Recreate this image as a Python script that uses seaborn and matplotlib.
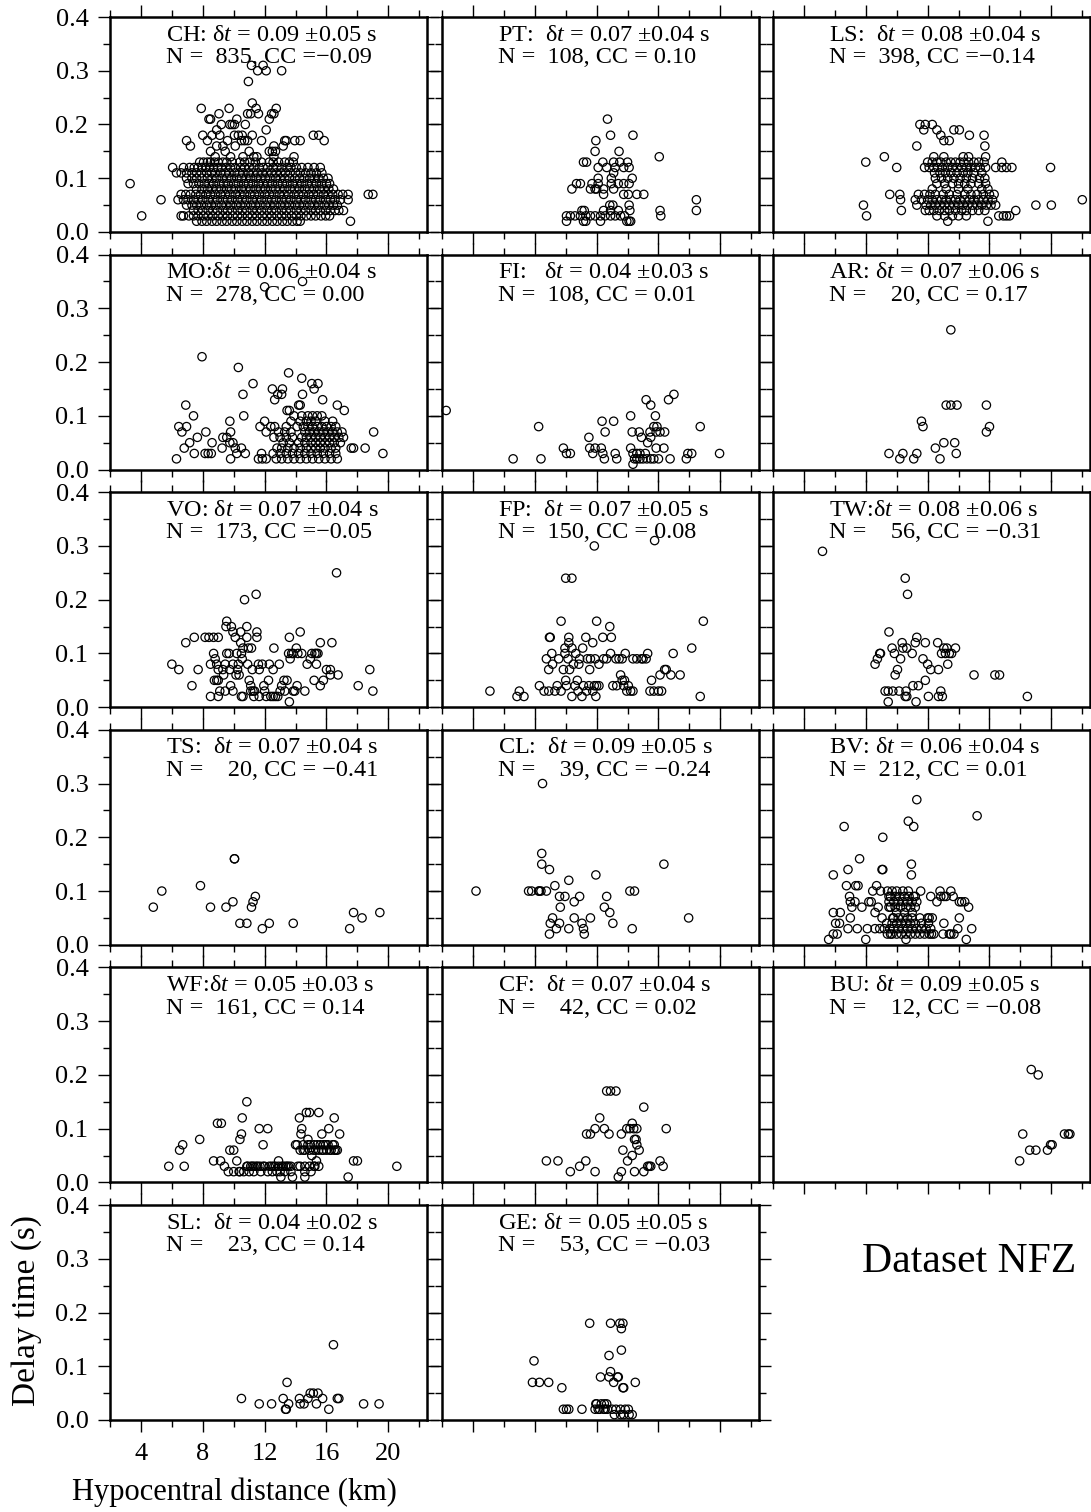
import matplotlib
matplotlib.use('Agg')
import matplotlib.pyplot as plt
from matplotlib.ticker import MultipleLocator, FormatStrFormatter
import pandas as pd
import seaborn as sns

# station codes and the two text lines of every panel
stations = ['CH', 'PT', 'LS', 'MO', 'FI', 'AR', 'VO', 'FP', 'TW',
            'TS', 'CL', 'BV', 'WF', 'CF', 'BU', 'SL', 'GE']
line1 = ['CH: δ$t$ = 0.09 ±0.05 s', 'PT:  δ$t$ = 0.07 ±0.04 s', 'LS:  δ$t$ = 0.08 ±0.04 s',
         'MO:δ$t$ = 0.06 ±0.04 s', 'FI:   δ$t$ = 0.04 ±0.03 s', 'AR: δ$t$ = 0.07 ±0.06 s',
         'VO: δ$t$ = 0.07 ±0.04 s', 'FP:  δ$t$ = 0.07 ±0.05 s', 'TW:δ$t$ = 0.08 ±0.06 s',
         'TS:  δ$t$ = 0.07 ±0.04 s', 'CL:  δ$t$ = 0.09 ±0.05 s', 'BV: δ$t$ = 0.06 ±0.04 s',
         'WF:δ$t$ = 0.05 ±0.03 s', 'CF:  δ$t$ = 0.07 ±0.04 s', 'BU: δ$t$ = 0.09 ±0.05 s',
         'SL:  δ$t$ = 0.04 ±0.02 s', 'GE: δ$t$ = 0.05 ±0.05 s']
line2 = ['N =  835, CC =−0.09', 'N =  108, CC = 0.10', 'N =  398, CC =−0.14',
         'N =  278, CC = 0.00', 'N =  108, CC = 0.01', 'N =    20, CC = 0.17',
         'N =  173, CC =−0.05', 'N =  150, CC = 0.08', 'N =    56, CC = −0.31',
         'N =    20, CC = −0.41', 'N =    39, CC = −0.24', 'N =  212, CC = 0.01',
         'N =  161, CC = 0.14', 'N =    42, CC = 0.02', 'N =    12, CC = −0.08',
         'N =    23, CC = 0.14', 'N =    53, CC = −0.03']

# delay time (s) -> hypocentral distances (km)
ch_rows = [
    (0.31, [11.15, 11.9]), (0.30, [11.55, 12.1, 13.1]), (0.28, [10.95]), (0.24, [11.2]),
    (0.23, [7.9, 9.7, 11.45, 12.75]), (0.22, [9.05, 10.9, 11.1, 11.6, 12.45, 12.6]),
    (0.21, [8.4, 8.5, 10.2, 12.3]), (0.20, [9.2, 9.75, 9.9, 10.05, 10.75]), (0.19, [8.9, 12.1]),
    (0.18, [8.0, 8.6, 9.1, 10.05, 10.3, 10.55, 11.2, 15.15, 15.5]),
    (0.17, [6.95, 8.3, 9.6, 10.5, 10.7, 10.9, 11.8, 13.3, 13.4, 13.95, 14.3, 15.85]),
    (0.16, [7.2, 8.9, 9.3, 10.1, 12.6, 13.2]), (0.15, [8.5, 9.45, 11.0, 12.3, 12.5, 12.7]),
    (0.14, [8.8, 9.8, 10.6, 11.3, 11.5, 12.6, 13.9]),
    (0.13, [7.8, 8.05, 8.3, 8.5, 8.75, 9.0, 9.3, 9.55, 9.9, 10.4, 10.7, 11.05, 11.4, 11.8, 12.3,
            12.55, 12.9, 13.3, 13.6, 13.85]),
    (0.12, [6.05, 6.75, 7.15, 7.45, 7.7, 7.95, 8.2, 8.45, 8.7, 8.95, 9.2, 9.5, 9.8, 10.1, 10.45,
            10.7, 11.0, 11.3, 11.65, 11.9, 12.2, 12.55, 12.8, 13.1, 13.45, 13.7, 14.05, 14.4, 14.8,
            15.2, 15.6]),
    (0.11, [6.3, 6.6, 6.95, 7.3, 7.6, 7.9, 8.25, 8.55, 8.8, 9.15, 9.45, 9.7, 10.05, 10.35, 10.6,
            10.95, 11.25, 11.55, 11.85, 12.15, 12.45, 12.75, 13.05, 13.35, 13.65, 14.0, 14.3, 14.65,
            15.0, 15.35, 15.7]),
    (0.10, [6.95, 7.3, 7.6, 7.95, 8.3, 8.6, 8.9, 9.25, 9.55, 9.85, 10.2, 10.5, 10.8, 11.1, 11.45,
            11.75, 12.05, 12.35, 12.7, 13.0, 13.3, 13.6, 13.95, 14.25, 14.55, 14.9, 15.2, 15.5, 15.8,
            16.1]),
    (0.09, [3.3, 7.05, 7.4, 7.75, 8.1, 8.4, 8.7, 9.05, 9.35, 9.65, 10.0, 10.3, 10.65, 10.95, 11.25,
            11.6, 11.9, 12.2, 12.5, 12.85, 13.15, 13.45, 13.8, 14.1, 14.4, 14.75, 15.05, 15.35, 15.7,
            16.0, 16.2]),
    (0.08, [7.6, 7.95, 8.3, 8.6, 8.9, 9.2, 9.55, 9.85, 10.15, 10.5, 10.8, 11.1, 11.45, 11.75, 12.05,
            12.4, 12.7, 13.0, 13.3, 13.65, 13.95, 14.25, 14.6, 14.9, 15.2, 15.55, 15.85, 16.15,
            16.45]),
    (0.07, [6.6, 6.9, 7.2, 7.55, 7.85, 8.2, 8.5, 8.8, 9.15, 9.45, 9.75, 10.1, 10.4, 10.7, 11.05,
            11.35, 11.65, 12.0, 12.3, 12.6, 12.95, 13.25, 13.55, 13.9, 14.2, 14.5, 14.85, 15.15,
            15.45, 15.8, 16.1, 16.4, 16.75, 17.05, 17.4, 18.7, 19.0]),
    (0.06, [5.3, 6.4, 6.75, 7.05, 7.4, 7.7, 8.0, 8.35, 8.65, 8.95, 9.3, 9.6, 9.9, 10.25, 10.55,
            10.85, 11.2, 11.5, 11.8, 12.15, 12.45, 12.75, 13.1, 13.4, 13.7, 14.05, 14.35, 14.65,
            15.0, 15.3, 15.6, 15.95, 16.25, 16.55, 16.9, 17.4]),
    (0.05, [6.95, 7.3, 7.6, 7.9, 8.25, 8.55, 8.85, 9.2, 9.5, 9.8, 10.15, 10.45, 10.75, 11.1, 11.4,
            11.7, 12.05, 12.35, 12.65, 13.0, 13.3, 13.6, 13.95, 14.25, 14.55, 14.9, 15.2, 15.5,
            15.85, 16.15, 16.45, 16.7]),
    (0.04, [7.4, 7.7, 8.0, 8.35, 8.65, 8.95, 9.3, 9.6, 9.9, 10.25, 10.55, 10.85, 11.2, 11.5, 11.8,
            12.15, 12.45, 12.75, 13.1, 13.4, 13.7, 14.05, 14.35, 14.65, 15.0, 15.3, 15.6, 15.95,
            16.25, 16.55, 16.8, 17.1]),
    (0.03, [4.05, 6.6, 6.75, 7.1, 7.4, 7.7, 8.05, 8.35, 8.65, 9.0, 9.3, 9.6, 9.95, 10.25, 10.55,
            10.9, 11.2, 11.5, 11.85, 12.15, 12.45, 12.8, 13.1, 13.4, 13.75, 14.05, 14.35, 14.7, 15.0,
            15.3, 15.65, 15.95, 16.2]),
    (0.02, [7.6, 7.95, 8.25, 8.6, 8.9, 9.25, 9.55, 9.9, 10.2, 10.55, 10.85, 11.2, 11.5, 11.85,
            12.15, 12.5, 12.8, 13.15, 13.45, 13.8, 14.1, 14.3, 17.55]),
]
pt_rows = [
    (0.21, [12.7]), (0.18, [12.9, 14.35]), (0.17, [11.95]), (0.15, [11.9, 13.45]), (0.14, [16.05]),
    (0.13, [11.15, 11.35, 12.4, 13.1, 13.5, 14.0]), (0.12, [12.1, 12.65, 13.2, 13.75, 14.1]),
    (0.11, [13.1]), (0.10, [12.1, 12.95, 14.3]),
    (0.09, [10.7, 10.95, 11.7, 12.1, 12.95, 13.4, 13.75, 14.1]),
    (0.08, [10.4, 11.6, 11.9, 12.0, 12.45, 13.1]), (0.07, [12.45, 13.75, 14.05, 14.6, 15.05]),
    (0.06, [18.45]), (0.05, [12.85, 13.05, 14.1]),
    (0.04, [11.05, 11.2, 12.45, 12.9, 13.4, 14.15, 16.1, 18.45]),
    (0.03, [10.05, 10.3, 10.6, 10.95, 11.3, 11.6, 11.9, 12.25, 12.55, 12.9, 13.2, 13.55, 13.8, 16.15]),
    (0.02, [10.05, 11.15, 11.3, 12.25, 13.95, 14.1, 14.2]),
]
ls_rows = [
    (0.20, [11.5, 11.85, 12.3]), (0.19, [11.75, 12.6, 13.7, 14.05]), (0.18, [12.85, 14.7, 15.65]),
    (0.17, [13.05, 13.4]), (0.16, [11.3, 15.7]), (0.14, [9.2, 12.4, 13.05, 14.3, 14.65, 15.75]),
    (0.13, [8.0, 12.0, 12.3, 12.6, 12.85, 13.2, 13.5, 13.8, 14.1, 14.35, 14.65, 15.0, 15.3, 15.65, 16.8]),
    (0.12, [10.0, 11.8, 12.1, 12.4, 12.65, 12.95, 13.3, 13.6, 13.9, 14.2, 14.5, 14.8, 15.1, 15.4,
            15.75, 16.4, 16.8, 17.1, 17.45, 19.95]),
    (0.11, [12.45, 12.8, 13.15, 13.5, 13.9, 14.3, 14.6, 15.0, 15.5]),
    (0.10, [12.5, 12.9, 13.3, 13.7, 14.1, 14.5, 14.9, 15.35, 15.7]),
    (0.09, [12.6, 13.1, 13.6, 14.0, 14.4, 14.8, 15.3, 15.75]),
    (0.08, [12.3, 13.2, 14.0, 14.6, 15.5, 15.9]),
    (0.07, [9.55, 10.2, 11.4, 11.8, 12.15, 12.5, 13.0, 13.4, 13.9, 14.4, 14.8, 15.2, 15.6, 16.0, 16.3]),
    (0.06, [10.25, 11.2, 11.6, 12.0, 12.3, 12.6, 12.9, 13.2, 13.5, 13.8, 14.1, 14.4, 14.7, 15.0,
            15.3, 15.6, 15.9, 16.2, 22.0]),
    (0.05, [7.85, 11.3, 11.9, 12.2, 12.5, 12.8, 13.1, 13.4, 13.7, 14.0, 14.3, 14.6, 14.9, 15.2,
            15.5, 15.8, 16.1, 16.4, 19.0, 20.0]),
    (0.04, [10.3, 11.85, 12.1, 12.4, 12.75, 13.1, 13.4, 13.8, 14.2, 14.5, 14.9, 15.3, 15.7, 17.7]),
    (0.03, [8.05, 12.6, 13.1, 13.6, 14.0, 14.5, 16.6, 16.9, 17.1, 17.3]),
    (0.02, [13.3, 15.9]),
]
mo_rows = [
    (0.35, [14.45]), (0.34, [12.0]), (0.21, [7.95]), (0.19, [10.3]), (0.18, [13.55]), (0.17, [14.4]),
    (0.16, [11.25, 15.05, 15.45]), (0.15, [12.5, 13.15, 15.2]), (0.14, [10.6, 12.85, 13.1, 14.45]),
    (0.13, [12.65, 15.75]), (0.12, [6.9, 14.2, 14.3, 16.7]), (0.11, [13.45, 13.6, 17.15]),
    (0.10, [7.4, 10.65, 13.9, 14.4, 14.8, 15.1, 15.4, 15.7]),
    (0.09, [9.75, 12.0, 13.7, 14.3, 14.7, 15.0, 15.3, 15.9, 16.4]),
    (0.08, [6.45, 6.95, 11.7, 12.4, 12.65, 13.4, 14.1, 14.5, 14.8, 15.1, 15.4, 15.7, 16.0, 16.3, 16.6]),
    (0.07, [6.65, 8.2, 9.8, 12.1, 12.9, 13.3, 13.7, 14.6, 14.9, 15.2, 15.5, 15.8, 16.1, 16.4, 16.7,
            17.0, 19.05]),
    (0.06, [7.65, 9.3, 9.55, 12.6, 13.0, 13.4, 13.8, 14.4, 14.7, 15.0, 15.3, 15.6, 15.9, 16.2, 16.5,
            16.8, 17.1]),
    (0.05, [7.15, 8.6, 9.75, 9.95, 13.2, 13.6, 14.2, 14.6, 15.0, 15.3, 15.6, 15.9, 16.2, 16.5, 16.9]),
    (0.04, [6.8, 9.25, 10.1, 10.5, 12.8, 13.1, 13.5, 13.9, 14.3, 14.7, 15.0, 15.3, 15.6, 15.9, 16.3,
            16.6, 17.6, 17.75, 18.5]),
    (0.03, [7.45, 8.15, 8.35, 8.55, 10.2, 10.75, 11.8, 12.55, 13.0, 13.4, 13.8, 14.2, 14.6, 15.0,
            15.4, 15.8, 16.2, 16.6, 19.65]),
    (0.02, [6.3, 9.8, 11.6, 11.85, 12.1, 12.75, 13.1, 13.5, 13.9, 14.3, 14.7, 15.1, 15.5, 15.9,
            16.3, 16.7]),
]
fi_rows = [
    (0.14, [17.0]), (0.13, [15.2, 16.65]), (0.12, [15.5]), (0.11, [2.27]), (0.10, [14.2, 15.8]),
    (0.09, [12.35, 13.1]), (0.08, [8.25, 15.7, 15.9, 18.7]),
    (0.07, [12.55, 14.3, 14.75, 15.45, 15.85, 16.1, 16.4]), (0.06, [11.5, 14.9, 15.5]), (0.05, [15.3]),
    (0.04, [9.85, 11.55, 11.9, 12.3, 14.2, 15.85, 16.35]),
    (0.03, [10.05, 10.3, 11.75, 12.4, 13.2, 14.35, 14.6, 14.8, 15.15, 17.9, 18.15, 19.95]),
    (0.02, [6.6, 8.4, 12.5, 13.3, 14.45, 14.6, 14.8, 15.0, 15.25, 15.5, 15.7, 16.0, 16.75, 17.8]),
    (0.01, [14.35]),
]
ar_rows = [
    (0.26, [13.5]), (0.12, [13.2, 13.5, 13.9, 15.8]), (0.09, [11.6]), (0.08, [11.7, 16.0]),
    (0.07, [15.8]), (0.05, [13.05, 13.75]), (0.04, [12.5]), (0.03, [9.5, 10.4, 11.3, 13.85]),
    (0.02, [10.2, 11.1, 12.8]),
]
vo_rows = [
    (0.25, [16.65]), (0.21, [11.45]), (0.20, [10.7]), (0.16, [9.55]), (0.15, [9.5, 9.85, 10.85]),
    (0.14, [9.95, 10.45, 11.5, 14.3]), (0.13, [7.45, 8.15, 8.4, 8.7, 9.0, 10.1, 10.85, 11.5, 13.6]),
    (0.12, [6.9, 10.45, 15.6, 16.35]), (0.11, [10.6, 10.95, 11.15, 12.6, 14.05]),
    (0.10, [8.7, 9.55, 9.7, 10.2, 10.5, 13.55, 13.75, 13.85, 14.15, 14.4, 15.05, 15.25, 15.35, 15.45]),
    (0.09, [8.8, 10.55, 13.65, 14.95]),
    (0.08, [6.0, 8.5, 8.9, 9.45, 9.95, 10.3, 10.9, 11.6, 11.85, 12.3, 12.95, 14.75, 15.35]),
    (0.07, [6.45, 7.7, 9.0, 9.3, 9.75, 10.25, 11.2, 11.65, 12.55, 16.0, 16.25, 18.8]),
    (0.06, [9.35, 10.15, 10.35, 16.25, 16.75]),
    (0.05, [8.75, 8.9, 9.0, 11.0, 12.25, 13.25, 13.45, 15.2, 15.8]),
    (0.04, [7.3, 9.8, 11.1, 11.95, 13.1, 14.1, 15.6, 18.05]),
    (0.03, [9.1, 9.45, 9.95, 11.1, 11.25, 11.35, 12.0, 13.0, 13.3, 13.85, 13.95, 14.6, 19.0]),
    (0.02, [8.5, 9.0, 10.5, 10.6, 11.3, 11.65, 12.1, 12.4, 12.55, 12.7, 12.85]),
    (0.01, [13.6]),
]
fp_rows = [
    (0.31, [15.75]), (0.30, [11.85]), (0.24, [10.0, 10.4]), (0.16, [9.7, 12.0, 18.9]), (0.15, [12.85]),
    (0.13, [8.95, 9.0, 10.2, 11.3, 12.4, 12.95]), (0.12, [10.2, 11.75]), (0.11, [9.95, 10.4, 11.1, 18.15]),
    (0.10, [9.1, 9.95, 10.65, 12.9, 13.85, 15.3, 16.95]),
    (0.09, [8.75, 9.55, 10.15, 10.9, 11.4, 11.6, 11.9, 12.45, 12.65, 13.25, 13.45, 13.65, 14.35,
            14.6, 14.9, 15.0, 15.2]),
    (0.08, [9.15, 10.5, 10.85, 12.15]), (0.07, [8.9, 9.85, 10.25, 11.55, 16.4, 16.5]),
    (0.06, [13.55, 16.1, 16.8, 17.4]), (0.05, [10.0, 10.75, 13.65, 13.8, 15.55]),
    (0.04, [8.3, 9.45, 10.05, 10.6, 11.15, 11.5, 11.85, 12.0, 12.15, 13.05, 13.3, 13.75, 14.05]),
    (0.03, [5.1, 7.0, 8.6, 8.9, 9.3, 9.7, 10.8, 11.35, 11.75, 13.95, 14.2, 14.35, 15.45, 15.7, 16.0, 16.2]),
    (0.02, [6.85, 7.3, 10.4, 11.05, 11.95, 18.7]),
]
tw_rows = [
    (0.29, [5.2]), (0.24, [10.55]), (0.21, [10.7]), (0.14, [9.5]), (0.13, [11.3]),
    (0.12, [10.35, 11.2, 11.85, 12.65]), (0.11, [9.7, 10.4, 10.65, 13.05, 13.25, 13.8]),
    (0.10, [8.9, 8.95, 9.85, 11.0, 12.9, 13.15, 13.4, 13.55]), (0.09, [8.75, 10.25, 11.7]),
    (0.08, [8.6, 12.0, 13.3]), (0.07, [10.05, 12.2, 12.7]), (0.06, [9.9, 15.0, 16.35, 16.65]),
    (0.05, [11.85]), (0.04, [11.05, 11.4]), (0.03, [9.25, 9.45, 9.75, 10.15, 10.6, 12.85]),
    (0.02, [10.55, 10.65, 12.05, 12.7, 12.95, 18.45]), (0.01, [9.45, 11.25]),
]
ts_rows = [
    (0.16, [10.05, 10.05]), (0.11, [7.85]), (0.10, [5.35]), (0.09, [11.4]), (0.08, [9.95, 11.25]),
    (0.07, [4.8, 8.5, 9.5, 11.15]), (0.06, [17.75, 19.45]), (0.05, [18.3]),
    (0.04, [10.4, 10.85, 12.3, 13.85]), (0.03, [11.85, 17.5]),
]
cl_rows = [
    (0.30, [8.5]), (0.17, [8.45]), (0.15, [8.45, 16.35]), (0.14, [8.95]), (0.13, [11.95]),
    (0.12, [10.2]), (0.11, [9.3]), (0.10, [4.2, 7.6, 7.8, 8.25, 8.3, 8.4, 8.75, 14.15, 14.45]),
    (0.09, [9.6, 9.95, 10.9, 12.65]), (0.08, [10.55]), (0.07, [9.65, 12.5]), (0.06, [12.85]),
    (0.05, [9.15, 10.55, 11.6, 17.95]), (0.04, [9.0, 9.6, 11.05, 13.05]),
    (0.03, [9.4, 10.2, 11.15, 14.3]), (0.02, [8.95, 11.2]),
]
bv_rows = [
    (0.27, [11.3]), (0.24, [15.2]), (0.23, [10.75]), (0.22, [6.6, 11.1]), (0.20, [9.1]), (0.16, [7.6]),
    (0.15, [10.95]), (0.14, [6.85, 9.05, 9.1]), (0.13, [5.9, 10.95]), (0.11, [6.75, 7.35, 7.5, 8.7]),
    (0.10, [8.45, 8.95, 9.4, 9.7, 10.0, 10.4, 10.75, 11.55, 12.8, 13.5]),
    (0.09, [6.95, 9.5, 9.6, 9.9, 10.2, 10.5, 10.8, 11.1, 11.2, 12.2, 12.85, 13.05, 13.2, 13.65]),
    (0.08, [7.0, 7.3, 8.2, 8.35, 9.5, 9.8, 10.1, 10.4, 10.7, 11.0, 11.3, 12.6, 14.05, 14.2, 14.4]),
    (0.07, [7.1, 7.75, 8.8, 9.5, 9.6, 9.9, 10.25, 10.6, 10.9, 11.2, 14.65]),
    (0.06, [5.9, 6.35, 8.6, 10.0, 10.5, 11.0]),
    (0.05, [7.0, 9.05, 9.75, 9.8, 10.1, 10.4, 10.7, 11.0, 11.5, 12.0, 12.1, 12.3, 14.05]),
    (0.04, [6.05, 6.3, 9.35, 9.7, 10.0, 10.3, 10.6, 10.9, 11.2, 11.6, 12.05, 13.05]),
    (0.03, [6.85, 7.45, 8.1, 8.6, 8.9, 9.2, 9.55, 9.8, 10.1, 10.4, 10.7, 11.0, 11.3, 11.6, 11.9,
            12.2, 13.95, 14.85]),
    (0.02, [5.9, 6.15, 9.4, 9.6, 9.7, 10.0, 10.3, 10.6, 10.9, 11.2, 11.5, 11.8, 12.1, 12.25, 12.4,
            13.0, 13.4, 13.5, 13.7]),
    (0.01, [5.6, 8.0, 10.6, 14.5]),
]
wf_rows = [
    (0.15, [10.85]), (0.13, [14.7, 14.9, 15.5]), (0.12, [10.55, 14.25, 16.5]), (0.11, [8.95, 9.2]),
    (0.10, [11.65, 12.2, 14.4, 16.15]), (0.09, [10.5, 14.35, 15.7, 16.85]), (0.08, [7.8, 10.4, 14.8]),
    (0.07, [6.7, 11.9, 14.0, 14.1, 14.5, 14.8, 14.95, 15.2, 15.4, 15.6, 15.8, 15.95, 16.1, 16.4, 16.5]),
    (0.06, [6.5, 9.75, 10.0, 14.3, 14.5, 14.6, 14.9, 15.15, 15.3, 15.5, 15.7, 15.8, 16.0, 16.2,
            16.3, 16.5, 16.6, 16.7]),
    (0.05, [15.05]), (0.04, [8.7, 9.15, 10.2, 12.9, 15.35, 17.75, 18.0]),
    (0.03, [5.8, 6.8, 9.4, 10.85, 10.9, 11.1, 11.2, 11.3, 11.45, 11.55, 11.7, 11.9, 12.0, 12.3,
            12.45, 12.6, 12.7, 12.9, 13.1, 13.2, 13.35, 13.45, 13.55, 13.7, 14.15, 14.3, 14.6, 14.9,
            15.2, 15.25, 15.5, 20.55]),
    (0.02, [9.65, 10.0, 10.35, 10.4, 10.65, 11.0, 11.3, 11.75, 12.2, 12.5, 12.8, 13.0, 13.3, 13.7,
            14.6, 15.0]),
    (0.01, [13.05, 13.8, 14.6, 17.4]),
]
cf_rows = [
    (0.17, [12.65, 12.9, 13.25]), (0.14, [15.05]), (0.12, [12.2]), (0.11, [14.3]),
    (0.10, [11.9, 12.5, 13.95, 14.15, 14.4, 14.6, 16.5]), (0.09, [11.35, 11.6, 12.8, 13.6]),
    (0.08, [14.45, 14.55]), (0.07, [14.6]), (0.06, [13.7, 14.75]), (0.05, [14.3]),
    (0.04, [8.75, 9.5, 11.3, 14.0, 16.1]), (0.03, [10.9, 15.3, 15.4, 15.5, 16.3]),
    (0.02, [10.3, 11.9, 13.6, 14.45, 15.05]), (0.01, [13.4]),
]
bu_rows = [
    (0.21, [18.7]), (0.20, [19.15]), (0.09, [18.15, 20.85, 21.1, 21.2]), (0.07, [19.95, 20.05]),
    (0.06, [18.6, 19.0, 19.75]), (0.04, [17.95]),
]
sl_rows = [
    (0.14, [16.45]), (0.07, [13.45]), (0.05, [14.95, 15.15, 15.45]),
    (0.04, [10.5, 13.2, 14.25, 14.8, 15.75, 16.7, 16.8]),
    (0.03, [11.65, 12.45, 13.55, 14.3, 14.55, 15.35, 18.4, 19.4]), (0.02, [13.35, 13.4, 16.15]),
]
ge_rows = [
    (0.18, [11.55, 12.9, 13.5, 13.7]), (0.17, [13.6]), (0.13, [13.6]), (0.12, [12.8]), (0.11, [7.95]),
    (0.09, [12.9]), (0.08, [12.25, 12.8, 13.35, 13.4]), (0.07, [7.85, 8.3, 8.9, 13.1, 14.5]),
    (0.06, [9.75, 13.7, 13.75]), (0.03, [11.95, 12.0, 12.3, 12.5, 12.65]),
    (0.02, [9.85, 10.05, 10.2, 11.05, 11.9, 12.1, 12.2, 12.45, 12.55, 12.7, 13.0, 13.25, 13.55,
            13.85, 14.05]),
    (0.01, [13.15, 13.55, 13.75, 14.1, 14.3]),
]
station_rows = [ch_rows, pt_rows, ls_rows, mo_rows, fi_rows, ar_rows, vo_rows, fp_rows, tw_rows,
                ts_rows, cl_rows, bv_rows, wf_rows, cf_rows, bu_rows, sl_rows, ge_rows]

records = []
for st, rows in zip(stations, station_rows):
    for dt, dists in rows:
        for d in dists:
            records.append((st, d, dt))
df = pd.DataFrame(records, columns=['station', 'dist', 'delay'])

sns.set_style('ticks')
plt.rcParams['font.family'] = ['Liberation Serif', 'DejaVu Serif']
plt.rcParams['mathtext.fontset'] = 'custom'
plt.rcParams['mathtext.rm'] = 'Liberation Serif'
plt.rcParams['mathtext.it'] = 'Liberation Serif:italic'
for key in ['text.color', 'axes.labelcolor', 'axes.edgecolor', 'xtick.color', 'ytick.color']:
    plt.rcParams[key] = 'black'

W, H = 1091, 1512
fig = plt.figure(figsize=(W / 100, H / 100), dpi=100)

col_left = [110, 442, 773]
row_top = [17, 254.6, 492.2, 729.8, 967.4, 1205]
pw, ph = 317, 215

for i, st in enumerate(stations):
    r, c = divmod(i, 3)
    ax = fig.add_axes([col_left[c] / W, 1 - (row_top[r] + ph) / H, pw / W, ph / H])
    sns.scatterplot(data=df[df['station'] == st], x='dist', y='delay', ax=ax,
                    marker='o', s=36, color='black', facecolors='none', edgecolor='black',
                    linewidth=0.9, clip_on=False, legend=False)
    ax.set_xlim(2, 22.5)
    ax.set_ylim(0, 0.4)
    ax.xaxis.set_major_locator(MultipleLocator(4))
    ax.xaxis.set_minor_locator(MultipleLocator(2))
    ax.yaxis.set_major_locator(MultipleLocator(0.1))
    ax.yaxis.set_minor_locator(MultipleLocator(0.05))
    ax.yaxis.set_major_formatter(FormatStrFormatter('%.1f'))
    ax.tick_params(which='both', direction='out', top=True, right=True, width=1.0,
                   colors='black', labelsize=19, labelleft=(c == 0), labelbottom=(i == 15))
    ax.tick_params(which='major', length=8.5, pad=7)
    ax.tick_params(which='minor', length=5)
    ax.tick_params(axis='x', which='major', pad=8)
    for sp in ax.spines.values():
        sp.set_linewidth(1.8)
        sp.set_color('black')
    ax.set_xlabel('')
    ax.set_ylabel('')
    ax.text(0.178, 0.89, line1[i], transform=ax.transAxes, fontsize=17.5, ha='left', va='baseline')
    ax.text(0.178, 0.785, line2[i], transform=ax.transAxes, fontsize=17.5, ha='left', va='baseline')

fig.text(72 / W, 1 - 1500 / H, 'Hypocentral distance (km)', fontsize=22, ha='left', va='baseline')
fig.text(27 / W, 1 - 1310 / H, 'Delay time (s)', fontsize=24, rotation=90, ha='center', va='center')
fig.text(969 / W, 1 - 1272 / H, 'Dataset NFZ', fontsize=30, ha='center', va='baseline')

fig.savefig('out.png', dpi=100)
